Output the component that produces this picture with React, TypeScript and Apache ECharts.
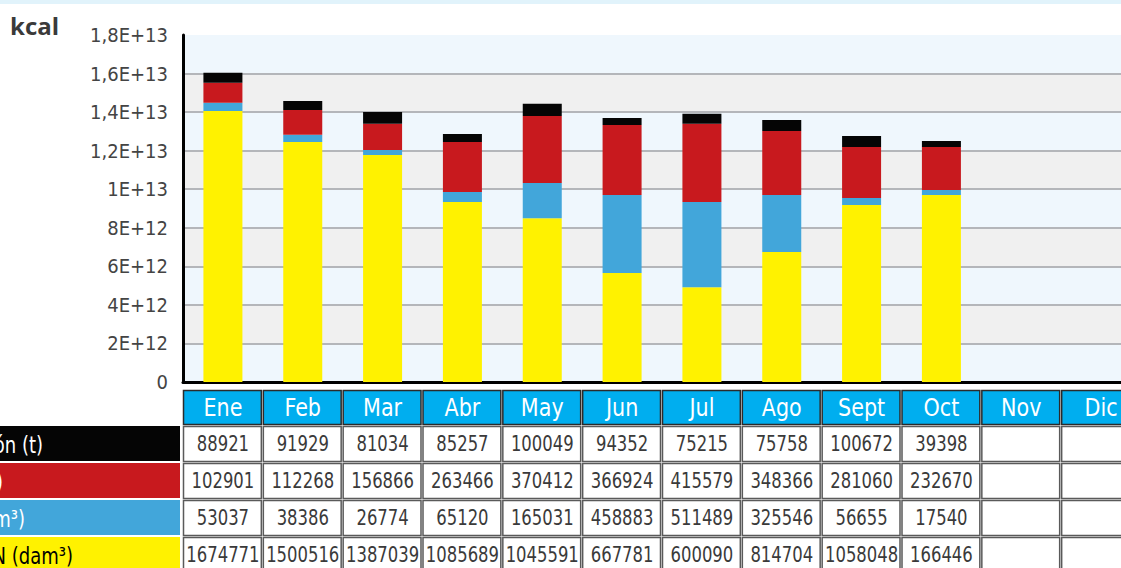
import React, { useEffect, useRef } from "react";
import * as echarts from "echarts";

const months = ["Ene", "Feb", "Mar", "Abr", "May", "Jun", "Jul", "Ago", "Sept", "Oct", "Nov", "Dic"];
const yTickLabels = ["0", "2E+12", "4E+12", "6E+12", "8E+12", "1E+13", "1,2E+13", "1,4E+13", "1,6E+13", "1,8E+13"];

// kcal values
const gnKcal = [14.06e12, 12.45e12, 11.78e12, 9.34e12, 8.5e12, 5.65e12, 4.92e12, 6.74e12, 9.18e12, 9.7e12, null, null];
const gnlKcal = [0.42e12, 0.37e12, 0.26e12, 0.51e12, 1.82e12, 4.05e12, 4.42e12, 2.96e12, 0.36e12, 0.26e12, null, null];
const oilKcal = [1.04e12, 1.29e12, 1.35e12, 2.6e12, 3.48e12, 3.63e12, 4.05e12, 3.32e12, 2.65e12, 2.23e12, null, null];
const coalKcal = [0.52e12, 0.47e12, 0.62e12, 0.41e12, 0.63e12, 0.37e12, 0.52e12, 0.57e12, 0.57e12, 0.31e12, null, null];

// table rows
const rowLabels = ["Carbón (t)", "Petróleo (t)", "GNL (dam³)", "GN (dam³)"];
const coalRow = ["88921", "91929", "81034", "85257", "100049", "94352", "75215", "75758", "100672", "39398", "", ""];
const oilRow = ["102901", "112268", "156866", "263466", "370412", "366924", "415579", "348366", "281060", "232670", "", ""];
const gnlRow = ["53037", "38386", "26774", "65120", "165031", "458883", "511489", "325546", "56655", "17540", "", ""];
const gnRow = ["1674771", "1500516", "1387039", "1085689", "1045591", "667781", "600090", "814704", "1058048", "166446", "", ""];

const COLORS = { yellow: "#FFF200", blue: "#42A6DA", red: "#C8191E", black: "#050505" };
const FONT = "'Liberation Sans Narrow', 'DejaVu Sans Condensed', 'Liberation Sans', sans-serif";

const CHART_W = 1150;
const CHART_H = 568;
const GRID_L = 183;
const GRID_R = 9;
const GRID_T = 35;
const GRID_B = 382;

export default function App() {
  const ref = useRef<HTMLDivElement>(null);
  useEffect(() => {
    if (!ref.current) return;
    const chart = echarts.init(ref.current, undefined, { renderer: "svg" });

    const plotW = CHART_W - GRID_R - GRID_L;
    const pitch = plotW / months.length;
    const rowTops = [426, 463, 500, 537];
    const rowH = 35;
    const rowData = [coalRow, oilRow, gnlRow, gnRow];
    const labelFill = [COLORS.black, COLORS.red, COLORS.blue, COLORS.yellow];
    const labelTextColor = ["#fff", "#fff", "#fff", "#000"];
    const labelRight = [43, 3, 25, 73];

    const graphics: any[] = [];
    graphics.push({ type: "rect", shape: { x: 0, y: 0, width: CHART_W, height: 4 }, style: { fill: "#E1F3FB" }, silent: true });
    graphics.push({
      type: "text", x: 10, y: 25,
      style: { text: "kcal", fill: "#3a3a3a", font: "bold 24px 'Open Sans', 'DejaVu Sans', sans-serif", textVerticalAlign: "middle" },
    });
    months.forEach((m, i) => {
      const x = GRID_L + i * pitch;
      graphics.push({
        type: "rect", shape: { x: x + 0.5, y: 390.5, width: pitch - 2, height: 34 },
        style: { fill: "#00AEEF", stroke: "#2b2b2b", lineWidth: 1.5 },
      });
      graphics.push({
        type: "text", x: x + pitch / 2, y: 408, scaleX: 0.92,
        style: { text: m, fill: "#fff", font: `25px ${FONT}`, textAlign: "center", textVerticalAlign: "middle" },
      });
      rowData.forEach((row, r) => {
        graphics.push({
          type: "rect", shape: { x: x + 0.5, y: rowTops[r] + 0.5, width: pitch - 2, height: rowH },
          style: { fill: "#fff", stroke: "#5a5a5a", lineWidth: 1.5 },
        });
        graphics.push({
          type: "text", x: x + pitch / 2, y: rowTops[r] + rowH / 2 + 1, scaleX: 0.87,
          style: { text: row[i], fill: "#3a3a3a", font: `21px ${FONT}`, textAlign: "center", textVerticalAlign: "middle" },
        });
      });
    });
    rowLabels.forEach((lab, r) => {
      graphics.push({
        type: "rect", shape: { x: 0, y: rowTops[r], width: 180, height: rowH }, style: { fill: labelFill[r] },
      });
      graphics.push({
        type: "text", x: labelRight[r], y: rowTops[r] + rowH / 2 + 1, scaleX: 0.87,
        style: { text: lab, fill: labelTextColor[r], font: `23px ${FONT}`, textAlign: "right", textVerticalAlign: "middle" },
      });
    });

    const barSeries = (name: string, data: any[], color: string) => ({
      name, type: "bar", stack: "total", data, barWidth: 39,
      itemStyle: { color }, emphasis: { disabled: true },
    });

    chart.setOption({
      animation: false,
      grid: { left: GRID_L, right: GRID_R, top: GRID_T, bottom: CHART_H - GRID_B, containLabel: false },
      xAxis: {
        type: "category", data: months,
        axisLine: { show: true, lineStyle: { color: "#000", width: 3 } },
        axisTick: { show: false }, axisLabel: { show: false },
      },
      yAxis: {
        type: "value", min: 0, max: 1.8e13, interval: 2e12,
        axisLine: { show: true, lineStyle: { color: "#000", width: 3 } },
        axisTick: { show: false },
        axisLabel: {
          margin: 15, fontSize: 20, color: "#444", fontFamily: FONT,
          formatter: (_v: number, idx: number) => yTickLabels[idx] ?? "",
        },
        splitLine: { show: true, showMaxLine: false, lineStyle: { color: "#B4B6BA", width: 2 } },
        splitArea: { show: true, areaStyle: { color: ["#EFF7FD", "#F0F0F0"] } },
      },
      series: [
        barSeries("GN", gnKcal, COLORS.yellow),
        barSeries("GNL", gnlKcal, COLORS.blue),
        barSeries("Petróleo", oilKcal, COLORS.red),
        barSeries("Carbón", coalKcal, COLORS.black),
      ],
      graphic: graphics,
    });
    return () => chart.dispose();
  }, []);

  return (
    <div style={{ position: "fixed", left: 0, top: 0, width: 1121, height: 568, overflow: "hidden", background: "#fff" }}>
      <div ref={ref} style={{ width: CHART_W, height: CHART_H }} />
    </div>
  );
}
